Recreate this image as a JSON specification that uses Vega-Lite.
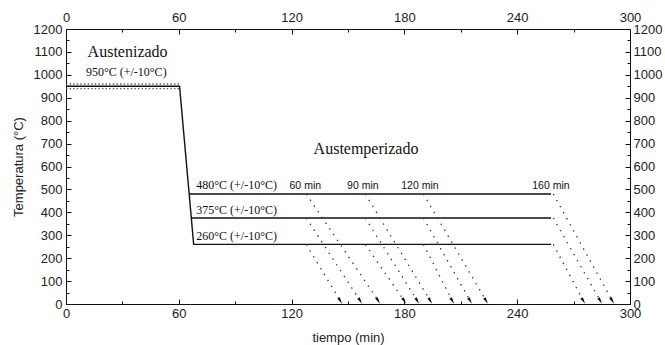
{
  "$schema": "https://vega.github.io/schema/vega-lite/v6.json",
  "width": 564,
  "height": 275,
  "autosize": "none",
  "padding": {"left": 66, "top": 29, "right": 35, "bottom": 41},
  "background": "white",
  "config": {
    "view": {"stroke": null},
    "axis": {
      "grid": false,
      "format": "d",
      "domainColor": "#111",
      "domainWidth": 1,
      "tickColor": "#111",
      "tickWidth": 1,
      "labelFont": "Liberation Sans",
      "labelFontSize": 13,
      "labelColor": "#222",
      "labelFlush": false,
      "labelOverlap": false,
      "titleFont": "Liberation Sans",
      "titleFontSize": 13,
      "titleFontWeight": "normal",
      "titleColor": "#222"
    }
  },
  "datasets": {
    "lines": [
      {"s": "aust", "t": 0, "T": 950},
      {"s": "aust", "t": 60.4, "T": 950},
      {"s": "aust", "t": 67.9, "T": 260},
      {"s": "aust", "t": 258, "T": 260},
      {"s": "480", "t": 65.5, "T": 480},
      {"s": "480", "t": 258, "T": 480},
      {"s": "375", "t": 66.6, "T": 375},
      {"s": "375", "t": 258, "T": 375}
    ],
    "tol": [
      {"s": "hi", "t": 0, "T": 960},
      {"s": "hi", "t": 60.4, "T": 960},
      {"s": "lo", "t": 0, "T": 940},
      {"s": "lo", "t": 60.4, "T": 940}
    ],
    "arrows": [
      {"g": "60", "temp": 480, "t0": 127.8, "T0": 480, "t1": 166.1, "T1": 14},
      {"g": "60", "temp": 375, "t0": 127.8, "T0": 375, "t1": 156.5, "T1": 14},
      {"g": "60", "temp": 260, "t0": 127.8, "T0": 260, "t1": 145.9, "T1": 14},
      {"g": "90", "temp": 480, "t0": 159.2, "T0": 480, "t1": 193.8, "T1": 14},
      {"g": "90", "temp": 375, "t0": 159.2, "T0": 375, "t1": 186.9, "T1": 14},
      {"g": "90", "temp": 260, "t0": 159.2, "T0": 260, "t1": 179.9, "T1": 14},
      {"g": "120", "temp": 480, "t0": 190.1, "T0": 480, "t1": 223.5, "T1": 14},
      {"g": "120", "temp": 375, "t0": 190.1, "T0": 375, "t1": 215.0, "T1": 14},
      {"g": "120", "temp": 260, "t0": 190.1, "T0": 260, "t1": 205.5, "T1": 14},
      {"g": "160", "temp": 480, "t0": 259.2, "T0": 480, "t1": 290.6, "T1": 14},
      {"g": "160", "temp": 375, "t0": 259.2, "T0": 375, "t1": 284.2, "T1": 14},
      {"g": "160", "temp": 260, "t0": 259.2, "T0": 260, "t1": 275.2, "T1": 14}
    ],
    "bigText": [
      {"t": 11.5, "T": 1078, "txt": "Austenizado"},
      {"t": 131.7, "T": 654, "txt": "Austemperizado"}
    ],
    "smallText": [
      {"t": 10.6, "T": 995, "txt": "950°C (+/-10°C)"},
      {"t": 69.3, "T": 500, "txt": "480°C (+/-10°C)"},
      {"t": 69.3, "T": 393, "txt": "375°C (+/-10°C)"},
      {"t": 69.3, "T": 279, "txt": "260°C (+/-10°C)"}
    ],
    "minText": [
      {"t": 118.9, "T": 500, "txt": "60 min"},
      {"t": 149.5, "T": 500, "txt": "90 min"},
      {"t": 178.3, "T": 500, "txt": "120 min"},
      {"t": 248, "T": 500, "txt": "160 min"}
    ]
  },
  "resolve": {"axis": {"x": "independent", "y": "independent"}},
  "layer": [
    {
      "data": {"name": "lines"},
      "mark": {"type": "line", "color": "#111", "strokeWidth": 1.4},
      "encoding": {
        "x": {
          "field": "t", "type": "quantitative",
          "scale": {"domain": [0, 300], "nice": false, "zero": false},
          "axis": {
            "orient": "bottom",
            "title": "tiempo (min)",
            "values": [0, 30, 60, 90, 120, 150, 180, 210, 240, 270, 300],
            "labelExpr": "datum.value % 60 === 0 ? datum.label : ''",
            "tickSize": {"condition": {"test": "datum.value % 60 === 0", "value": -5}, "value": -3},
            "labelPadding": 8,
            "titlePadding": 9
          }
        },
        "y": {
          "field": "T", "type": "quantitative",
          "scale": {"domain": [0, 1200], "nice": false, "zero": false},
          "axis": {
            "orient": "left",
            "title": "Temperatura (°C)",
            "values": [0, 50, 100, 150, 200, 250, 300, 350, 400, 450, 500, 550, 600, 650, 700, 750, 800, 850, 900, 950, 1000, 1050, 1100, 1150, 1200],
            "labelExpr": "datum.value % 100 === 0 ? datum.label : ''",
            "tickSize": {"condition": {"test": "datum.value % 100 === 0", "value": -5}, "value": -3},
            "labelPadding": 9,
            "titlePadding": 8
          }
        },
        "detail": {"field": "s"}
      }
    },
    {
      "data": {"name": "tol"},
      "mark": {"type": "line", "color": "#555", "strokeWidth": 1.3, "strokeDash": [1.4, 2.2]},
      "encoding": {
        "x": {
          "field": "t", "type": "quantitative",
          "scale": {"domain": [0, 300], "nice": false, "zero": false},
          "axis": {
            "orient": "top",
            "title": null,
            "values": [0, 30, 60, 90, 120, 150, 180, 210, 240, 270, 300],
            "labelExpr": "datum.value % 60 === 0 ? datum.label : ''",
            "tickSize": {"condition": {"test": "datum.value % 60 === 0", "value": -5}, "value": -3},
            "labelPadding": 10
          }
        },
        "y": {
          "field": "T", "type": "quantitative",
          "scale": {"domain": [0, 1200], "nice": false, "zero": false},
          "axis": {
            "orient": "right",
            "title": null,
            "values": [0, 50, 100, 150, 200, 250, 300, 350, 400, 450, 500, 550, 600, 650, 700, 750, 800, 850, 900, 950, 1000, 1050, 1100, 1150, 1200],
            "labelExpr": "datum.value % 100 === 0 ? datum.label : ''",
            "tickSize": {"condition": {"test": "datum.value % 100 === 0", "value": -5}, "value": -3},
            "labelPadding": 8
          }
        },
        "detail": {"field": "s"}
      }
    },
    {
      "data": {"name": "arrows"},
      "mark": {"type": "rule", "color": "#333", "strokeWidth": 1.3, "strokeDash": [1.4, 5.5]},
      "encoding": {
        "x": {"field": "t0", "type": "quantitative", "scale": {"domain": [0, 300], "nice": false, "zero": false}, "axis": null},
        "x2": {"field": "t1"},
        "y": {"field": "T0", "type": "quantitative", "scale": {"domain": [0, 1200], "nice": false, "zero": false}, "axis": null},
        "y2": {"field": "T1"}
      }
    },
    {
      "data": {"name": "arrows"},
      "mark": {"type": "point", "shape": "M0,1L-0.45,-1L0.45,-1Z", "filled": true, "color": "#111", "opacity": 1, "size": 45, "angle": 328},
      "encoding": {
        "x": {"field": "t1", "type": "quantitative", "scale": {"domain": [0, 300], "nice": false, "zero": false}, "axis": null},
        "y": {"field": "T1", "type": "quantitative", "scale": {"domain": [0, 1200], "nice": false, "zero": false}, "axis": null}
      }
    },
    {
      "data": {"name": "bigText"},
      "mark": {"type": "text", "font": "Liberation Serif", "fontSize": 16, "align": "left", "baseline": "alphabetic", "color": "#111"},
      "encoding": {
        "x": {"field": "t", "type": "quantitative", "scale": {"domain": [0, 300], "nice": false, "zero": false}, "axis": null},
        "y": {"field": "T", "type": "quantitative", "scale": {"domain": [0, 1200], "nice": false, "zero": false}, "axis": null},
        "text": {"field": "txt"}
      }
    },
    {
      "data": {"name": "smallText"},
      "mark": {"type": "text", "font": "Liberation Serif", "fontSize": 12, "align": "left", "baseline": "alphabetic", "color": "#111"},
      "encoding": {
        "x": {"field": "t", "type": "quantitative", "scale": {"domain": [0, 300], "nice": false, "zero": false}, "axis": null},
        "y": {"field": "T", "type": "quantitative", "scale": {"domain": [0, 1200], "nice": false, "zero": false}, "axis": null},
        "text": {"field": "txt"}
      }
    },
    {
      "data": {"name": "minText"},
      "mark": {"type": "text", "font": "Liberation Sans", "fontSize": 10.5, "align": "left", "baseline": "alphabetic", "color": "#111"},
      "encoding": {
        "x": {"field": "t", "type": "quantitative", "scale": {"domain": [0, 300], "nice": false, "zero": false}, "axis": null},
        "y": {"field": "T", "type": "quantitative", "scale": {"domain": [0, 1200], "nice": false, "zero": false}, "axis": null},
        "text": {"field": "txt"}
      }
    }
  ]
}
